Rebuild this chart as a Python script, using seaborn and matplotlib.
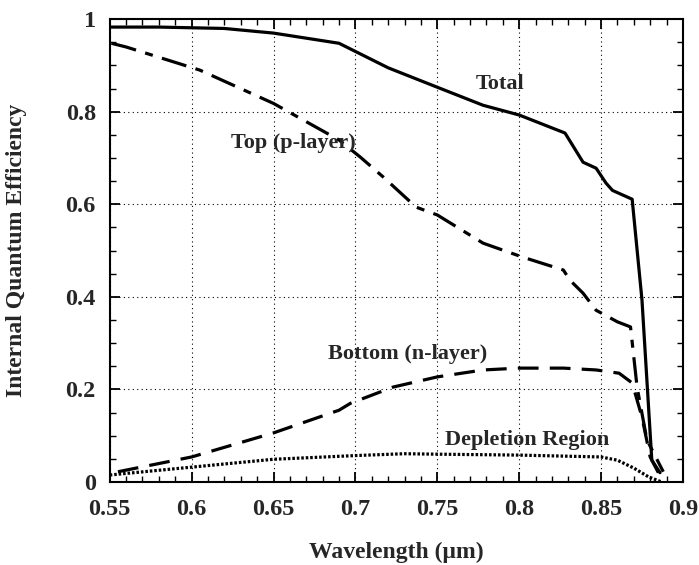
import numpy as np
import matplotlib
matplotlib.use('Agg')
import matplotlib.pyplot as plt
from matplotlib.ticker import MultipleLocator, FormatStrFormatter
import pandas as pd
import seaborn as sns

# curves
total_x = [0.550, 0.580, 0.620, 0.650, 0.690, 0.720, 0.750, 0.778, 0.800, 0.828,
           0.839, 0.847, 0.853, 0.857, 0.869, 0.875, 0.881, 0.886]
total_y = [0.983, 0.983, 0.980, 0.970, 0.948, 0.895, 0.853, 0.814, 0.793, 0.754,
           0.691, 0.678, 0.646, 0.630, 0.611, 0.393, 0.047, 0.020]

top_x = [0.551, 0.560, 0.605, 0.650, 0.690, 0.703, 0.717, 0.737, 0.750, 0.778,
         0.802, 0.827, 0.831, 0.839, 0.847, 0.860, 0.868, 0.872, 0.878, 0.888]
top_y = [0.948, 0.940, 0.890, 0.818, 0.739, 0.702, 0.659, 0.594, 0.577, 0.516,
         0.486, 0.458, 0.436, 0.408, 0.371, 0.346, 0.335, 0.205, 0.091, 0.022]

bottom_x = [0.555, 0.600, 0.650, 0.690, 0.697, 0.723, 0.750, 0.778, 0.800, 0.827,
            0.847, 0.861, 0.869, 0.875, 0.880, 0.885]
bottom_y = [0.022, 0.054, 0.106, 0.155, 0.170, 0.205, 0.227, 0.242, 0.246, 0.246,
            0.242, 0.235, 0.214, 0.140, 0.054, 0.020]

depl_x = [0.550, 0.600, 0.650, 0.700, 0.730, 0.750, 0.800, 0.850, 0.860, 0.870,
          0.879, 0.887]
depl_y = [0.015, 0.032, 0.049, 0.057, 0.061, 0.060, 0.058, 0.054, 0.047, 0.030,
          0.011, 0.000]

labels = ["Total", "Top (p-layer)", "Bottom (n-layer)", "Depletion Region"]
label_pos = [(0.788, 0.861), (0.662, 0.732), (0.732, 0.276), (0.805, 0.091)]

sns.set_style("ticks")
plt.rcParams['font.family'] = ['Liberation Serif', 'DejaVu Serif']
plt.rcParams['font.weight'] = 'bold'

fig = plt.figure(figsize=(6.99, 5.65), dpi=100)
ax = fig.add_axes([0.157, 0.147, 0.82, 0.819])

sns.lineplot(x=total_x, y=total_y, ax=ax, color='k', lw=2.3, linestyle='-')
sns.lineplot(x=top_x, y=top_y, ax=ax, color='k', lw=2.3,
             linestyle=(0, (8, 3, 2.5, 3)))
sns.lineplot(x=bottom_x, y=bottom_y, ax=ax, color='k', lw=2.3,
             linestyle=(0, (6.5, 3.5)))
sns.lineplot(x=depl_x, y=depl_y, ax=ax, color='k', lw=2.3,
             linestyle=(0, (0.8, 0.6)))

for t, (px, py) in zip(labels, label_pos):
    ax.text(px, py, t, ha='center', va='center', fontsize=16, fontweight='bold')

ax.set_xlim(0.55, 0.9)
ax.set_ylim(0, 1)
ax.xaxis.set_major_locator(MultipleLocator(0.05))
ax.xaxis.set_minor_locator(MultipleLocator(0.01))
ax.yaxis.set_major_locator(MultipleLocator(0.2))
ax.yaxis.set_minor_locator(MultipleLocator(0.05))
ax.xaxis.set_major_formatter(FormatStrFormatter('%g'))
ax.yaxis.set_major_formatter(FormatStrFormatter('%g'))
ax.tick_params(which='both', direction='in', top=True, right=True, color='k')
ax.tick_params(which='major', length=7, width=1.3, labelsize=17.5)
ax.tick_params(axis='x', which='major', pad=12)
ax.tick_params(axis='y', which='major', pad=10)
ax.tick_params(which='minor', length=4, width=1.0)
for s in ax.spines.values():
    s.set_linewidth(1.5)
    s.set_color('k')
ax.grid(True, which='major', color='k', linestyle=(0, (1, 3)), linewidth=0.8)

ax.set_xlabel("Wavelength (\u03bcm)", fontsize=17, fontweight='bold', labelpad=16)
ax.set_ylabel("Internal Quantum Efficiency", fontsize=17, fontweight='bold', labelpad=28)

fig.savefig("out.png", dpi=100)
